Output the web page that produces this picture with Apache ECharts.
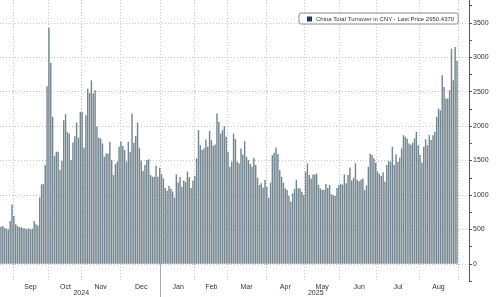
<!DOCTYPE html>
<html><head><meta charset="utf-8">
<script src="https://cdn.jsdelivr.net/npm/echarts@6/dist/echarts.min.js"></script>
<style>html,body{margin:0;padding:0;background:#fff}#c{width:500px;height:297px}</style>
</head><body><div id="c"></div>
<script>
const seriesName = 'China Total Turnover in CNY - Last Price 2950.4370';
const lastPriceLabel = '2950.4370';
const monthLabels = ['Aug','Sep','Oct','Nov','Dec','Jan','Feb','Mar','Apr','May','Jun','Jul','Aug'];
const monthYears  = [2024,2024,2024,2024,2024,2025,2025,2025,2025,2025,2025,2025,2025];
const yearLabels = ['2024','2025'];

const aug24 = [540, 550, 520, 510, 500, 620, 860];
const sep24 = [695, 575, 550, 531, 531, 517, 517, 502, 517, 502, 510, 623, 575, 555, 966, 1154, 1160, 1434, 2579];
const oct24 = [3430, 2917, 2135, 1565, 1628, 1628, 1362, 1497, 2087, 2173, 1917, 1893, 1507, 1763, 1855, 2053, 1830, 2207];
const nov24 = [2207, 1686, 2159, 2545, 2483, 2666, 2473, 2521, 1990, 1830, 1821, 1748, 1555, 1604, 1604, 1773, 1507, 1290, 1449, 1483, 1700];
const dec24 = [1773, 1710, 1652, 1483, 1773, 1628, 2183, 1758, 1855, 2053, 1686, 1497, 1348, 1434, 1507, 1517, 1290, 1265, 1265, 1425, 1265, 1396];
const jan25 = [1300, 1240, 1100, 1060, 1130, 1090, 1050, 960, 1300, 1180, 1260, 1120, 1210, 1190, 1340, 1260, 1100, 1210];
const feb25 = [1275, 1531, 1942, 1724, 1652, 1676, 1806, 1700, 1932, 1797, 1715, 1734, 2183, 2062, 1893, 1942, 2000, 1845];
const mar25 = [1628, 1410, 1483, 1893, 1811, 1483, 1459, 1676, 1589, 1782, 1555, 1507, 1449, 1410, 1541, 1434, 1251, 1145, 1169, 1106, 1217];
const apr25 = [1120, 961, 1180, 1580, 1613, 1690, 1594, 1362, 1265, 1180, 1096, 1072, 985, 903, 1024, 1087, 1217, 1096, 1096, 1048, 1000];
const may25 = [1338, 1459, 1290, 1241, 1299, 1299, 1310, 1145, 1096, 1072, 1072, 1159, 1100, 1145, 1010, 1000, 990, 1100, 1145];
const jun25 = [1160, 1150, 1300, 1170, 1290, 1400, 1210, 1250, 1460, 1220, 1200, 1220, 1240, 1070, 1140, 1410, 1600, 1580, 1530, 1470];
const jul25 = [1338, 1304, 1275, 1330, 1193, 1434, 1497, 1483, 1700, 1434, 1589, 1483, 1541, 1676, 1869, 1845, 1821, 1748, 1730, 1760, 1821, 1917, 1724];
const aug25 = [1580, 1473, 1700, 1811, 1724, 1869, 1797, 1869, 1917, 2135, 2256, 2231, 2739, 2570, 2400, 2400, 2521, 3125, 2666, 3149, 2950.437];

const yMin = -250, yMax = 3833, yStep = 250, yLabelStep = 500;
const padSlots = 6;

const months = [aug24, sep24, oct24, nov24, dec24, jan25, feb25, mar25, apr25, may25, jun25, jul25, aug25];
const categories = [], values = [];
const monthStart = new Set(), monthMid = {}, yearStart = {}, yearOrder = [];
months.forEach((arr, m) => {
  const s = categories.length;
  if (m > 0) { monthStart.add(s); monthMid[s + Math.floor(arr.length / 2)] = monthLabels[m]; }
  if (!(monthYears[m] in yearStart)) { yearStart[monthYears[m]] = s; yearOrder.push(monthYears[m]); }
  arr.forEach((v, i) => { categories.push(monthLabels[m] + ' ' + monthYears[m] + ' #' + (i + 1)); values.push(v); });
});
monthStart.add(categories.length);
for (let k = 0; k < padSlots; k++) { categories.push('pad' + k); values.push(null); }
const boundaries = [];
for (let i = 0; i <= categories.length; i++) boundaries.push('b' + i);
const yearTick = new Set(), yearMid = {};
yearOrder.forEach((y, k) => {
  const s = yearStart[y];
  const e = k + 1 < yearOrder.length ? yearStart[yearOrder[k + 1]] : categories.length;
  if (s > 0) yearTick.add(s);
  yearMid[Math.round((s + e) / 2)] = yearLabels[k];
});
const lastValue = aug25[aug25.length - 1];

const font = 'Liberation Sans, Arial, sans-serif';
const chart = echarts.init(document.getElementById('c'), null, {renderer: 'canvas'});
chart.setOption({
  animation: false,
  backgroundColor: '#fff',
  textStyle: {fontFamily: font},
  grid: {left: 0, right: 31, top: 0, bottom: 15, containLabel: false},
  legend: {
    top: 13, left: 299, selectedMode: false,
    data: [{name: seriesName, itemStyle: {color: '#1d3b5c'}}],
    icon: 'rect', itemWidth: 5, itemHeight: 5, itemGap: 0,
    textStyle: {fontSize: 6, color: '#333', fontFamily: font, padding: [0, 0, 0, -1]},
    backgroundColor: '#fff', borderColor: '#8a8a8a', borderWidth: 1, borderRadius: 2,
    padding: [3, 4, 2, 8]
  },
  xAxis: [{
    type: 'category', data: categories, boundaryGap: true,
    axisLine: {show: false, onZero: false}, axisTick: {show: false},
    axisLabel: {interval: (i) => (i in monthMid), formatter: (v, i) => monthMid[i] || '',
      fontSize: 7, color: '#333', margin: 3, fontFamily: font},
    splitLine: {show: true, interval: (i) => monthStart.has(i), lineStyle: {color: '#c4c4c4', type: [1, 2], width: 1}}
  }, {
    type: 'category', data: boundaries, boundaryGap: false, position: 'bottom', offset: -18,
    axisLine: {show: false, onZero: false},
    axisTick: {show: true, interval: (i) => yearTick.has(i), length: 34, lineStyle: {color: '#aaa'}},
    axisLabel: {interval: (i) => (i in yearMid), formatter: (v, i) => yearMid[i] || '',
      fontSize: 7, color: '#333', margin: 27, fontFamily: font},
    splitLine: {show: false}
  }],
  yAxis: {
    type: 'value', position: 'right', min: yMin, max: yMax, interval: yStep,
    axisLine: {show: true, lineStyle: {color: '#555'}},
    axisTick: {show: true, length: 3, lineStyle: {color: '#555'}},
    axisLabel: {fontSize: 7, color: '#333', margin: 4, fontFamily: font, showMaxLabel: false,
      formatter: (v) => (v >= 0 && v % yLabelStep === 0) ? String(v) : ''},
    splitLine: {show: true, showMaxLine: false, lineStyle: {color: ['rgba(0,0,0,0)', '#c4c4c4'], type: [1, 2], width: 1}}
  },
  series: [{
    type: 'bar', name: seriesName, data: values, xAxisIndex: 0,
    barCategoryGap: '22%',
    itemStyle: {color: '#74868f'},
    markLine: {
      silent: true, symbol: 'none', data: [{yAxis: lastValue}],
      lineStyle: {opacity: 0},
      label: {show: true, position: 'end', formatter: lastPriceLabel, distance: 1,
        backgroundColor: '#1f3b58', color: '#fff', fontSize: 7, padding: [2, 2, 1, 2], fontFamily: font}
    }
  }]
});
</script></body></html>
